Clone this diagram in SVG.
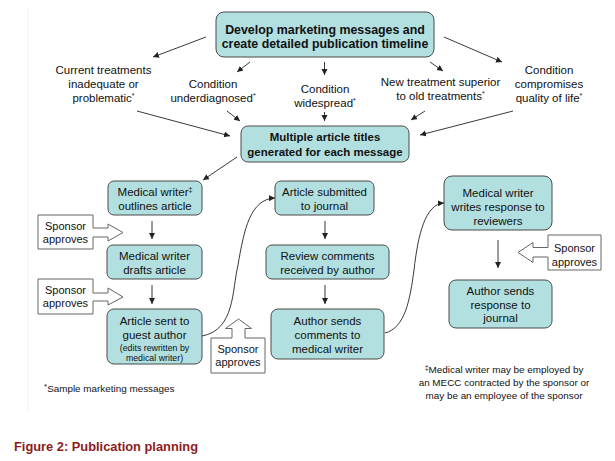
<svg xmlns="http://www.w3.org/2000/svg" width="615" height="461" viewBox="0 0 615 461">
<defs>
<marker id="ah" markerUnits="userSpaceOnUse" markerWidth="8" markerHeight="8" refX="6" refY="3" orient="auto">
<path d="M0,0 L6,3 L0,6 Z" fill="#222"/>
</marker>
<style>
.box{fill:#B2DFE0;stroke:#4a4a4a;stroke-width:1}
.t{font-family:"Liberation Sans",Arial,sans-serif;font-size:11.5px;fill:#111;text-anchor:middle}
.b{font-weight:bold;font-size:12.4px}
.b2{font-weight:bold;font-size:11.5px}
.s{font-size:8.8px}
.sp{font-size:11px}
.fn{font-family:"Liberation Sans",Arial,sans-serif;font-size:9.9px;fill:#111}
.sup{font-size:7px}
.call{fill:#fff;stroke:#666;stroke-width:1}
.c{fill:none;stroke:#222;stroke-width:0.9;marker-end:url(#ah)}
</style>
</defs>
<rect width="615" height="461" fill="#fff"/>
<line x1="28" y1="8" x2="28" y2="412" stroke="#f1f1f1" stroke-width="1"/>

<g id="top">
<rect class="box" x="216" y="12" width="218" height="45" rx="8"/>
<text class="t b" x="325" y="33.5">Develop marketing messages and</text>
<text class="t b" x="325" y="48">create detailed publication timeline</text>
</g>

<g id="msg1"><text class="t" x="103.5" y="74">Current treatments</text><text class="t" x="103.5" y="88">inadequate or</text><text class="t" x="103.5" y="101.5">problematic<tspan class="sup" dy="-4">*</tspan></text></g>
<g id="msg2"><text class="t" x="213" y="88">Condition</text><text class="t" x="213" y="101.5">underdiagnosed<tspan class="sup" dy="-4">*</tspan></text></g>
<g id="msg3"><text class="t" x="325" y="93">Condition</text><text class="t" x="325" y="106.5">widespread<tspan class="sup" dy="-4">*</tspan></text></g>
<g id="msg4"><text class="t" x="440.5" y="86">New treatment superior</text><text class="t" x="440.5" y="99.5">to old treatments<tspan class="sup" dy="-4">*</tspan></text></g>
<g id="msg5"><text class="t" x="549" y="74">Condition</text><text class="t" x="549" y="88">compromises</text><text class="t" x="549" y="101.5">quality of life<tspan class="sup" dy="-4">*</tspan></text></g>

<g id="titles">
<rect class="box" x="241" y="126" width="168" height="36" rx="7"/>
<text class="t b2" x="325" y="141">Multiple article titles</text>
<text class="t b2" x="325" y="156">generated for each message</text>
</g>

<g id="outline">
<rect class="box" x="108" y="181" width="94" height="34" rx="6"/>
<text class="t" x="155" y="196">Medical writer<tspan class="sup" dy="-4">‡</tspan></text>
<text class="t" x="155" y="209.5">outlines article</text>
</g>
<g id="drafts">
<rect class="box" x="107" y="245" width="95" height="34" rx="6"/>
<text class="t" x="154.5" y="260">Medical writer</text>
<text class="t" x="154.5" y="273.5">drafts article</text>
</g>
<g id="guest">
<rect class="box" x="107" y="309" width="95" height="55" rx="7"/>
<text class="t" x="154.5" y="325">Article sent to</text>
<text class="t" x="154.5" y="338.5">guest author</text>
<text class="t s" x="154.5" y="350.5">(edits rewritten by</text>
<text class="t s" x="154.5" y="360.5">medical writer)</text>
</g>
<g id="submitted">
<rect class="box" x="275" y="181" width="99" height="34" rx="6"/>
<text class="t" x="324.5" y="196">Article submitted</text>
<text class="t" x="324.5" y="209.5">to journal</text>
</g>
<g id="review">
<rect class="box" x="266" y="245" width="123" height="34" rx="6"/>
<text class="t" x="327.5" y="260">Review comments</text>
<text class="t" x="327.5" y="273.5">received by author</text>
</g>
<g id="sendcomments">
<rect class="box" x="271" y="309" width="113" height="50" rx="7"/>
<text class="t" x="327.5" y="324.5">Author sends</text>
<text class="t" x="327.5" y="338.5">comments to</text>
<text class="t" x="327.5" y="352.5">medical writer</text>
</g>
<g id="response">
<rect class="box" x="444" y="176" width="108" height="54" rx="8"/>
<text class="t" x="498" y="197">Medical writer</text>
<text class="t" x="498" y="211">writes response to</text>
<text class="t" x="498" y="225">reviewers</text>
</g>
<g id="sendresponse">
<rect class="box" x="449" y="280" width="103" height="48" rx="7"/>
<text class="t" x="500.5" y="295">Author sends</text>
<text class="t" x="500.5" y="308.5">response to</text>
<text class="t" x="500.5" y="322">journal</text>
</g>

<g id="sponsor1">
<path class="call" d="M38,215 H93 V228 H108 V224 L123,232.5 L108,241 V237 H93 V249 H38 Z"/>
<text class="t sp" x="65.5" y="230">Sponsor</text>
<text class="t sp" x="65.5" y="243">approves</text>
</g>
<g id="sponsor2">
<path class="call" d="M38,279 H93 V293 H108 V288 L123,297 L108,305 V301 H93 V314 H38 Z"/>
<text class="t sp" x="65.5" y="294">Sponsor</text>
<text class="t sp" x="65.5" y="307">approves</text>
</g>
<g id="sponsor3">
<path class="call" d="M211,338 H232 V328.5 H225.5 L238.5,319 L251.5,328.5 H245 V338 H265 V373 H211 Z"/>
<text class="t sp" x="238" y="353">Sponsor</text>
<text class="t sp" x="238" y="366">approves</text>
</g>
<g id="sponsor4">
<path class="call" d="M548,235 H601 V270 H548 V257 H533 V262.5 L518,252.5 L533,242.5 V247.5 H548 Z"/>
<text class="t sp" x="574.5" y="252">Sponsor</text>
<text class="t sp" x="574.5" y="265.5">approves</text>
</g>

<g id="connectors">
<line class="c" x1="206" y1="37" x2="153" y2="57"/>
<line class="c" x1="250" y1="62" x2="237" y2="72"/>
<line class="c" x1="324.5" y1="62" x2="324.5" y2="75"/>
<line class="c" x1="430" y1="62" x2="443" y2="71"/>
<line class="c" x1="444" y1="37" x2="502" y2="62"/>
<line class="c" x1="137" y1="111" x2="230" y2="136"/>
<line class="c" x1="227" y1="111" x2="240" y2="121"/>
<line class="c" x1="324.5" y1="112" x2="324.5" y2="121"/>
<line class="c" x1="425" y1="111" x2="411" y2="120"/>
<line class="c" x1="513" y1="111" x2="420" y2="135"/>
<line class="c" x1="237" y1="157" x2="203" y2="180"/>
<line class="c" x1="152" y1="221" x2="152" y2="239"/>
<line class="c" x1="152" y1="285" x2="152" y2="304"/>
<line class="c" x1="325" y1="221" x2="325" y2="239"/>
<line class="c" x1="325" y1="285" x2="325" y2="304"/>
<line class="c" x1="498" y1="240" x2="498" y2="268"/>
<path class="c" d="M202,336 C235,330 232,290 238,265 C244,230 250,199 275,198"/>
<path class="c" d="M385,333 C405,328 410,300 414,270 C418,235 425,204 444,203"/>
</g>

<g id="footnotes">
<text class="fn" x="44" y="392" font-size="10"><tspan font-size="8" dy="-3">*</tspan><tspan dy="3">Sample marketing messages</tspan></text>
<text class="fn" x="504" y="373" text-anchor="middle"><tspan class="sup" dy="-3">‡</tspan><tspan dy="3">Medical writer may be employed by</tspan></text>
<text class="fn" x="504" y="386" text-anchor="middle">an MECC contracted by the sponsor or</text>
<text class="fn" x="504" y="399" text-anchor="middle">may be an employee of the sponsor</text>
</g>
<text x="14" y="451" font-family="'Liberation Sans',Arial,sans-serif" font-weight="bold" font-size="12.8" fill="#8E1B1B" textLength="184" lengthAdjust="spacingAndGlyphs">Figure 2: Publication planning</text>
</svg>
